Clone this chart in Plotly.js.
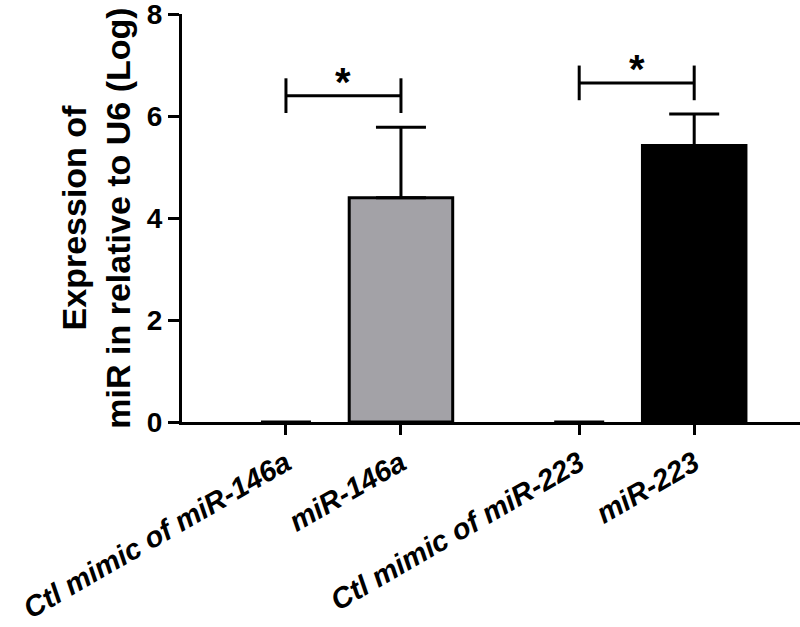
<!DOCTYPE html>
<html>
<head>
<meta charset="utf-8">
<script src="https://cdn.plot.ly/plotly-3.0.1.min.js"></script>
<style>
  html, body { margin: 0; padding: 0; background: #fff; }
  #chart { width: 800px; height: 627px; }
</style>
</head>
<body>
<div id="chart"></div>
<script>
// values
const groups = ['Ctl mimic of miR-146a', 'miR-146a', 'Ctl mimic of miR-223', 'miR-223'];
const means = [0, 4.40, 0, 5.42];
const sem = [0, 1.38, 0, 0.62];
const yTicks = [0, 2, 4, 6, 8];

// significance brackets: [from group, to group, bracket height, label]
const sigFrom = [0, 2];
const sigTo = [1, 3];
const sigY = [6.40, 6.65];
const sigLabel = ['*', '*'];

// layout: two pairs, with a wider gap between the pairs
const xPos = [0, 1, 2.55, 3.55];
const barColors = ['#ffffff', '#a3a2a7', '#ffffff', '#000000'];
const fontFam = 'Arial, "Liberation Sans", sans-serif';

const trace = {
  type: 'bar',
  x: xPos,
  y: means,
  width: 0.9,
  marker: {color: barColors, line: {color: '#000', width: means.map(v => v > 0 ? 3 : 0)}},
  error_y: {
    type: 'data',
    symmetric: false,
    array: sem.map(v => v > 0 ? v : null),
    arrayminus: sem.map(() => 0),
    color: '#000',
    thickness: 3,
    width: 25
  },
  hoverinfo: 'skip'
};

const shapes = [];
const annotations = [];
sigY.forEach((y, i) => {
  const x0 = xPos[sigFrom[i]];
  const x1 = xPos[sigTo[i]];
  const line = {color: '#000', width: 3};
  shapes.push({type: 'line', xref: 'x', yref: 'y', x0: x0, x1: x1, y0: y, y1: y, line: line});
  shapes.push({type: 'line', xref: 'x', yref: 'y', x0: x0, x1: x0, y0: y - 0.34, y1: y + 0.34, line: line});
  shapes.push({type: 'line', xref: 'x', yref: 'y', x0: x1, x1: x1, y0: y - 0.34, y1: y + 0.34, line: line});
  annotations.push({
    x: (x0 + x1) / 2, y: y, xref: 'x', yref: 'y',
    text: sigLabel[i], showarrow: false,
    yanchor: 'bottom', yshift: -10,
    font: {family: fontFam, size: 40, color: '#000', weight: 'bold'}
  });
});

const layout = {
  width: 800,
  height: 627,
  margin: {l: 182, r: 0, t: 14, b: 205},
  paper_bgcolor: '#fff',
  plot_bgcolor: '#fff',
  showlegend: false,
  bargap: 0,
  xaxis: {
    range: [-0.904, 4.47],
    tickmode: 'array',
    tickvals: xPos,
    ticktext: groups,
    tickangle: -30,
    ticks: 'outside',
    ticklen: 10,
    tickwidth: 3,
    tickcolor: '#000',
    showline: true,
    linewidth: 3,
    linecolor: '#000',
    showgrid: false,
    zeroline: false,
    ticklabeloverflow: 'allow',
    tickfont: {family: fontFam, size: 29, color: '#000', weight: 'bold', style: 'italic'}
  },
  yaxis: {
    range: [0, 8.001],
    tickmode: 'array',
    tickvals: yTicks,
    ticks: 'outside',
    ticklen: 11,
    tickwidth: 3,
    tickcolor: '#000',
    showline: true,
    linewidth: 3,
    linecolor: '#000',
    showgrid: false,
    zeroline: false,
    ticklabeloverflow: 'allow',
    tickfont: {family: fontFam, size: 28, color: '#000', weight: 'bold'},
    title: {
      text: 'Expression of<br>miR in relative to U6 (Log)',
      font: {family: fontFam, size: 34, color: '#000', weight: 'bold'},
      standoff: 6
    }
  },
  shapes: shapes,
  annotations: annotations
};

Plotly.newPlot('chart', [trace], layout, {displayModeBar: false, staticPlot: true});
</script>
</body>
</html>
